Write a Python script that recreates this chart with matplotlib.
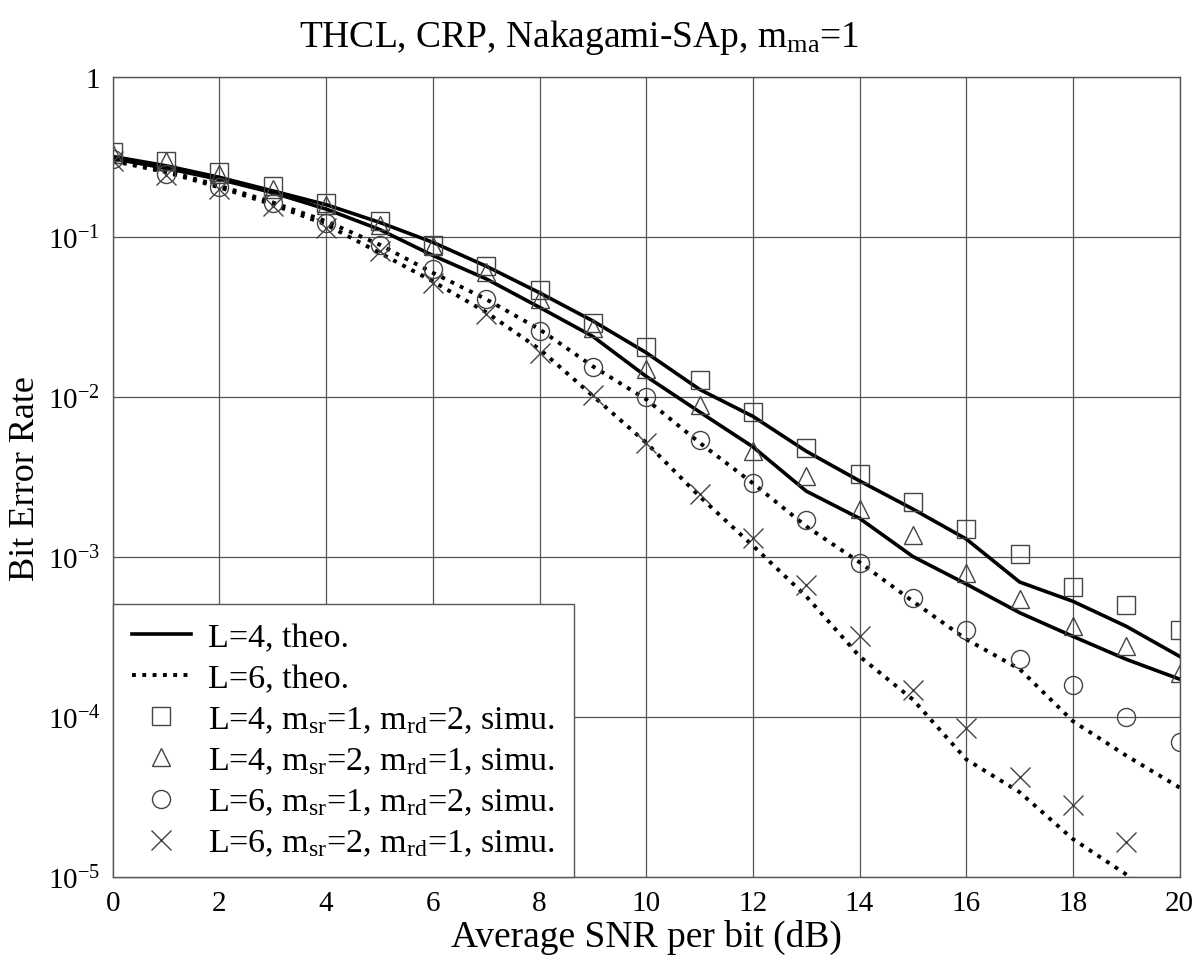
import numpy as np
import matplotlib
matplotlib.use("Agg")
import matplotlib.pyplot as plt
from matplotlib.ticker import FixedLocator, FixedFormatter, NullLocator

plt.rcParams['font.family'] = ['Liberation Serif', 'DejaVu Serif']
plt.rcParams['mathtext.fontset'] = 'custom'
plt.rcParams['mathtext.rm'] = 'Liberation Serif'
plt.rcParams['mathtext.it'] = 'Liberation Serif:italic'

snr = list(range(21))

# theory curves
theo_L4_a = [0.32, 0.28, 0.237, 0.195, 0.16, 0.124, 0.093, 0.066, 0.045, 0.03, 0.019,
             0.0112, 0.0076, 0.0046, 0.003, 0.002, 0.0013, 0.0007, 0.00053, 0.00037, 0.00024]
theo_L4_b = [0.31, 0.27, 0.23, 0.19, 0.15, 0.112, 0.077, 0.055, 0.0365, 0.024, 0.0135,
             0.0081, 0.0049, 0.00259, 0.00175, 0.00101, 0.00068, 0.00045, 0.00032, 0.00023, 0.000173]
theo_L6_a = [0.305, 0.26, 0.21, 0.165, 0.126, 0.09, 0.06, 0.041, 0.0266, 0.0156, 0.0097,
             0.0052, 0.0029, 0.00156, 0.00093, 0.00053, 0.000307, 0.0002, 0.0000944, 0.0000575, 0.0000363]
theo_L6_b = [0.3, 0.255, 0.205, 0.16, 0.12, 0.08, 0.053, 0.034, 0.02, 0.0102, 0.0052,
             0.0024, 0.00118, 0.00057, 0.00024, 0.000129, 0.0000545, 0.000034, 0.0000173, 0.0000104, 0.0000062]

# simulation points
sim_sq = [0.34, 0.30, 0.255, 0.21, 0.163, 0.126, 0.09, 0.066, 0.047, 0.029, 0.0206,
          0.0128, 0.0081, 0.0048, 0.0033, 0.0022, 0.0015, 0.00105, 0.00065, 0.0005, 0.00035]
sim_tri = [0.33, 0.30, 0.25, 0.20, 0.16, 0.12, 0.088, 0.061, 0.041, 0.027, 0.015,
           0.009, 0.0046, 0.0032, 0.002, 0.00137, 0.0008, 0.00055, 0.00037, 0.00028, 0.00019]
sim_circ = [0.31, 0.25, 0.205, 0.163, 0.122, 0.09, 0.063, 0.041, 0.026, 0.0154, 0.01,
            0.0054, 0.0029, 0.0017, 0.00092, 0.00056, 0.00035, 0.00023, 0.00016, 0.0001, 0.00007]
snr_x = list(range(20))
sim_x = [0.3, 0.245, 0.2, 0.157, 0.115, 0.082, 0.052, 0.033, 0.019, 0.0103, 0.0052,
         0.0025, 0.00131, 0.00067, 0.00032, 0.000148, 0.0000855, 0.0000425, 0.0000283, 0.0000165]

fig = plt.figure(figsize=(12, 9.79), dpi=100)
ax = fig.add_axes([0.094, 0.103, 0.889, 0.817])

lw_s = 2.6
lw_d = 2.8
ax.plot(snr, theo_L4_a, color='black', lw=lw_s, label='L=4, theo.')
ax.plot(snr, theo_L4_b, color='black', lw=lw_s)
ax.plot(snr, theo_L6_a, color='black', lw=lw_d, ls=':', label='L=6, theo.')
ax.plot(snr, theo_L6_b, color='black', lw=lw_d, ls=':')

mk = dict(ls='none', markerfacecolor='none', markeredgecolor='#444444', markeredgewidth=1.0, markersize=13)
ax.plot(snr, sim_sq, marker='s', label=r'L=4, m$_{\mathrm{sr}}$=1, m$_{\mathrm{rd}}$=2, simu.', **mk)
ax.plot(snr, sim_tri, marker='^', label=r'L=4, m$_{\mathrm{sr}}$=2, m$_{\mathrm{rd}}$=1, simu.', **mk)
ax.plot(snr, sim_circ, marker='o', label=r'L=6, m$_{\mathrm{sr}}$=1, m$_{\mathrm{rd}}$=2, simu.', **mk)
ax.plot(snr_x, sim_x, marker='x', label=r'L=6, m$_{\mathrm{sr}}$=2, m$_{\mathrm{rd}}$=1, simu.',
        ls='none', color='#444444', markeredgewidth=1.0, markersize=15)

ax.set_yscale('log')
ax.set_xlim(0, 20)
ax.set_ylim(1e-5, 1)
ax.set_xticks(range(0, 21, 2))
ytick_vals = [1e-5, 1e-4, 1e-3, 1e-2, 1e-1, 1]
ytick_labels = [r'10$^{-5}$', r'10$^{-4}$', r'10$^{-3}$', r'10$^{-2}$', r'10$^{-1}$', '1']
ax.yaxis.set_major_locator(FixedLocator(ytick_vals))
ax.yaxis.set_major_formatter(FixedFormatter(ytick_labels))
ax.yaxis.set_minor_locator(NullLocator())
ax.tick_params(length=0, labelsize=21, pad=9)
ax.grid(True, color='#555555', lw=0.9)
for s in ax.spines.values():
    s.set_color('#555555')
    s.set_linewidth(1.0)

ax.set_xlabel('Average SNR per bit (dB)', fontsize=27, labelpad=2)
ax.set_ylabel('Bit Error Rate', fontsize=26, labelpad=4)
fig.text(0.483, 0.952, r'THCL, CRP, Nakagami-SAp, m$_{\mathrm{ma}}$=1', fontsize=27,
         ha='center', va='baseline')

leg = ax.legend(loc='lower left', fontsize=24.5, fancybox=False, framealpha=1,
                edgecolor='#555555', borderaxespad=0, handlelength=1.76,
                handletextpad=0.5, labelspacing=0.3, borderpad=0.55)
leg.get_frame().set_linewidth(1.0)

fig.savefig('out.png', dpi=100)
